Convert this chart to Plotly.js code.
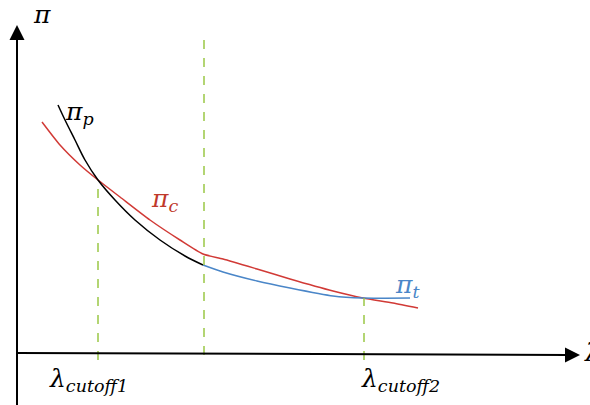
<!DOCTYPE html>
<html><head><meta charset="utf-8">
<script src="https://cdn.plot.ly/plotly-3.0.1.min.js"></script>
<style>html,body{margin:0;padding:0;background:#fff}</style>
</head><body><div id="chart" style="width:590px;height:405px"></div>
<script>
// Conceptual curves: lambda (x) vs pi (y), arbitrary units
const piP_x = [41, 48, 58, 68, 81, 98, 118, 143, 168, 186];
const piP_y = [248, 233, 213, 193, 173, 153, 133, 113, 97, 88];
const piC_x = [25, 43, 63, 81, 103, 133, 163, 186, 206, 240, 273, 316, 346, 376, 401];
const piC_y = [231, 208, 188, 173, 156, 133, 113, 99, 94, 84, 74, 62, 55, 50, 45];
const piT_x = [186, 206, 240, 273, 316, 346, 393];
const piT_y = [88, 81, 72, 65, 57, 55, 55];
const cutoff1 = 81, cutoffMid = 187, cutoff2 = 347;

const traces = [
  {x: piC_x, y: piC_y, mode: 'lines', line: {color: '#d13a36', width: 1.5, shape: 'spline', smoothing: 0.6}, hoverinfo: 'skip'},
  {x: piP_x, y: piP_y, mode: 'lines', line: {color: '#000000', width: 1.5, shape: 'spline'}, hoverinfo: 'skip'},
  {x: piT_x, y: piT_y, mode: 'lines', line: {color: '#4a86c8', width: 1.5, shape: 'spline', smoothing: 0.6}, hoverinfo: 'skip'}
];

const green = '#9bc846';
const shapes = [
  {type: 'line', x0: cutoff1, x1: cutoff1, y0: -7, y1: 173, line: {color: green, width: 1.5, dash: 'dash'}},
  {type: 'line', x0: cutoffMid, x1: cutoffMid, y0: -2, y1: 316, line: {color: green, width: 1.5, dash: 'dash'}},
  {type: 'line', x0: cutoff2, x1: cutoff2, y0: -7, y1: 55, line: {color: green, width: 1.5, dash: 'dash'}},
  {type: 'line', x0: 0, x1: 0, y0: -52, y1: 315, line: {color: '#000', width: 2}},
  {type: 'line', x0: 0, x1: 552, y0: 0, y1: -2, line: {color: '#000', width: 2}}
];

const font = {family: 'DejaVu Serif', size: 25, color: '#000'};
const sub = (s) => '<sub>' + s + '</sub>';
const annotations = [
  {x: 0, y: 328, ax: 0, ay: 300, axref: 'x', ayref: 'y', xref: 'x', yref: 'y', showarrow: true, arrowhead: 2, arrowsize: 2, arrowwidth: 1.5, arrowcolor: '#000', text: ''},
  {x: 563, y: -2, ax: 540, ay: -2, axref: 'x', ayref: 'y', xref: 'x', yref: 'y', showarrow: true, arrowhead: 2, arrowsize: 2, arrowwidth: 1.5, arrowcolor: '#000', text: ''},
  {x: 25, y: 339, text: '<i>π</i>', showarrow: false, font: font},
  {x: 62, y: 240, text: '<i>π' + sub('p') + '</i>', showarrow: false, font: font},
  {x: 147, y: 153, text: '<i>π' + sub('c') + '</i>', showarrow: false, font: Object.assign({}, font, {color: '#c0392b'})},
  {x: 390, y: 67, text: '<i>π' + sub('t') + '</i>', showarrow: false, font: Object.assign({}, font, {color: '#4a86c8'})},
  {x: 71, y: -27, text: '<i>λ' + sub('cutoff1') + '</i>', showarrow: false, font: font},
  {x: 383, y: -27, text: '<i>λ' + sub('cutoff2') + '</i>', showarrow: false, font: font},
  {x: 565, y: 1, text: '<i>λ</i>', showarrow: false, xanchor: 'left', font: font}
];

const layout = {
  width: 590, height: 405,
  margin: {l: 0, r: 0, t: 0, b: 0},
  paper_bgcolor: '#fff', plot_bgcolor: '#fff',
  showlegend: false,
  xaxis: {range: [-17, 573], visible: false, fixedrange: true},
  yaxis: {range: [-52, 353], visible: false, fixedrange: true},
  shapes: shapes,
  annotations: annotations
};
Plotly.newPlot('chart', traces, layout, {staticPlot: true, displayModeBar: false});
</script></body></html>
